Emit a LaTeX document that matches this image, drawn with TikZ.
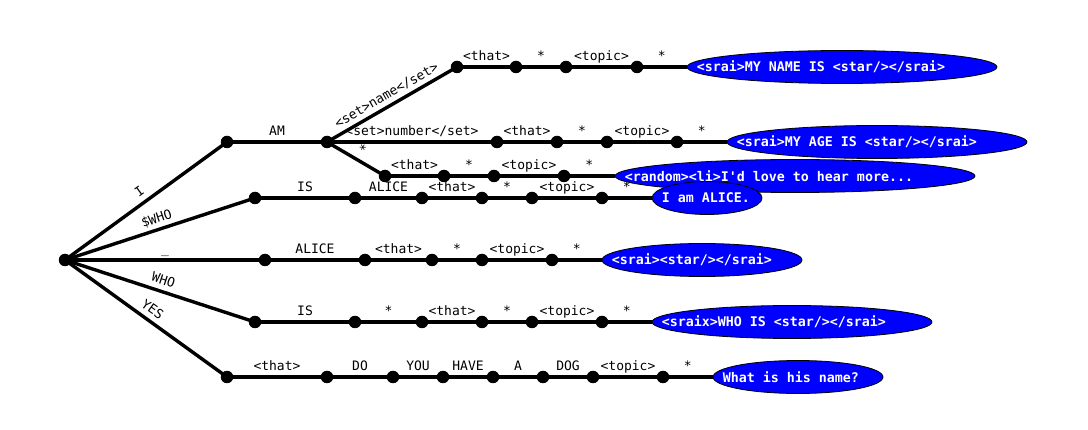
\documentclass[tikz,border=0pt]{standalone}
\usepackage{fontspec}
\setmonofont{DejaVu Sans Mono}
\usetikzlibrary{shapes.geometric}
\pgfdeclarelayer{bg}
\pgfsetlayers{bg,main}
\begin{document}
\begin{tikzpicture}[x=1pt,y=-1pt,
  dot/.style={circle,fill=black,minimum size=12.5pt,inner sep=0pt},
  leaf/.style={ellipse,draw=black,line width=0.8pt,fill=blue,minimum height=33pt,inner sep=0pt},
  leaftext/.style={anchor=west,text=white,font=\ttfamily\bfseries\fontsize{13.3}{15}\selectfont,inner sep=0pt},
  edge/.style={line width=3.4pt},
  lab/.style={font=\ttfamily\fontsize{13}{15}\selectfont,text depth=0pt,inner xsep=0pt,inner ysep=5pt,anchor=south,sloped},
]
\useasboundingbox (0,0) rectangle (1088,430);
% root
\node[dot] (r) at (65,260) {};
% I AM branch
\node[dot] (a1) at (227,142) {};
\node[dot] (a2) at (327,142) {};
% name
\node[dot] (b1) at (457,67) {};
\node[dot] (b2) at (516,67) {};
\node[dot] (b3) at (566,67) {};
\node[dot] (b4) at (637,67) {};
% number
\node[dot] (c1) at (497,142) {};
\node[dot] (c2) at (557,142) {};
\node[dot] (c3) at (607,142) {};
\node[dot] (c4) at (677,142) {};
% star
\node[dot] (s1) at (385,176) {};
\node[dot] (s2) at (444,176) {};
\node[dot] (s3) at (494,176) {};
\node[dot] (s4) at (564,176) {};
% $WHO
\node[dot] (w1) at (255,198) {};
\node[dot] (w2) at (355,198) {};
\node[dot] (w3) at (422,198) {};
\node[dot] (w4) at (482,198) {};
\node[dot] (w5) at (532,198) {};
\node[dot] (w6) at (602,198) {};
% _
\node[dot] (u1) at (265,260) {};
\node[dot] (u2) at (365,260) {};
\node[dot] (u3) at (432,260) {};
\node[dot] (u4) at (482,260) {};
\node[dot] (u5) at (552,260) {};
% WHO
\node[dot] (v1) at (255,322) {};
\node[dot] (v2) at (355,322) {};
\node[dot] (v3) at (422,322) {};
\node[dot] (v4) at (482,322) {};
\node[dot] (v5) at (532,322) {};
\node[dot] (v6) at (602,322) {};
% YES
\node[dot] (y1) at (227,377) {};
\node[dot] (y2) at (327,377) {};
\node[dot] (y3) at (393,377) {};
\node[dot] (y4) at (443,377) {};
\node[dot] (y5) at (493,377) {};
\node[dot] (y6) at (543,377) {};
\node[dot] (y7) at (593,377) {};
\node[dot] (y8) at (663,377) {};
% leaves
\node[leaf,minimum width=310pt] (E1) at (842,67) {};
\node[leaftext] (t1) at ([xshift=10pt]E1.west) {<srai>MY NAME IS <star/></srai>};
\node[leaf,minimum width=300pt] (E2) at (877,142) {};
\node[leaftext] (t2) at ([xshift=10pt]E2.west) {<srai>MY AGE IS <star/></srai>};
\node[leaf,minimum width=360pt] (E3) at (795,176) {};
\node[leaftext] (t3) at ([xshift=10pt]E3.west) {<random><li>I\textquotesingle d love to hear more...};
\node[leaf,minimum width=110pt] (E4) at (707,198) {};
\node[leaftext] (t4) at ([xshift=10pt]E4.west) {I am ALICE.};
\node[leaf,minimum width=200pt] (E5) at (702,260) {};
\node[leaftext] (t5) at ([xshift=10pt]E5.west) {<srai><star/></srai>};
\node[leaf,minimum width=280pt] (E6) at (792,322) {};
\node[leaftext] (t6) at ([xshift=10pt]E6.west) {<sraix>WHO IS <star/></srai>};
\node[leaf,minimum width=170pt] (E7) at (798,377) {};
\node[leaftext] (t7) at ([xshift=10pt]E7.west) {What is his name?};
\begin{pgfonlayer}{bg}
% root edges
\draw[edge] (r.center) -- node[lab]{I} (a1.center);
\draw[edge] (r.center) -- node[lab]{\$WHO} (w1.center);
\draw[edge] (r.center) -- node[lab]{\_} (u1.center);
\draw[edge] (r.center) -- node[lab]{WHO} (v1.center);
\draw[edge] (r.center) -- node[lab]{YES} (y1.center);
% I AM
\draw[edge] (a1.center) -- node[lab]{AM} (a2.center);
\draw[edge] (a2.center) -- node[lab]{<set>name</set>} (b1.center);
\draw[edge] (b1.center) -- node[lab]{<that>} (b2.center);
\draw[edge] (b2.center) -- node[lab]{*} (b3.center);
\draw[edge] (b3.center) -- node[lab]{<topic>} (b4.center);
\draw[edge] (b4.center) -- node[lab]{*} (E1);
\draw[edge] (a2.center) -- node[lab]{<set>number</set>} (c1.center);
\draw[edge] (c1.center) -- node[lab]{<that>} (c2.center);
\draw[edge] (c2.center) -- node[lab]{*} (c3.center);
\draw[edge] (c3.center) -- node[lab]{<topic>} (c4.center);
\draw[edge] (c4.center) -- node[lab]{*} (E2);
\draw[edge] (a2.center) -- node[lab]{*} (s1.center);
\draw[edge] (s1.center) -- node[lab]{<that>} (s2.center);
\draw[edge] (s2.center) -- node[lab]{*} (s3.center);
\draw[edge] (s3.center) -- node[lab]{<topic>} (s4.center);
\draw[edge] (s4.center) -- node[lab]{*} (E3);
% $WHO
\draw[edge] (w1.center) -- node[lab]{IS} (w2.center);
\draw[edge] (w2.center) -- node[lab]{ALICE} (w3.center);
\draw[edge] (w3.center) -- node[lab]{<that>} (w4.center);
\draw[edge] (w4.center) -- node[lab]{*} (w5.center);
\draw[edge] (w5.center) -- node[lab]{<topic>} (w6.center);
\draw[edge] (w6.center) -- node[lab]{*} (E4);
% _
\draw[edge] (u1.center) -- node[lab]{ALICE} (u2.center);
\draw[edge] (u2.center) -- node[lab]{<that>} (u3.center);
\draw[edge] (u3.center) -- node[lab]{*} (u4.center);
\draw[edge] (u4.center) -- node[lab]{<topic>} (u5.center);
\draw[edge] (u5.center) -- node[lab]{*} (E5);
% WHO
\draw[edge] (v1.center) -- node[lab]{IS} (v2.center);
\draw[edge] (v2.center) -- node[lab]{*} (v3.center);
\draw[edge] (v3.center) -- node[lab]{<that>} (v4.center);
\draw[edge] (v4.center) -- node[lab]{*} (v5.center);
\draw[edge] (v5.center) -- node[lab]{<topic>} (v6.center);
\draw[edge] (v6.center) -- node[lab]{*} (E6);
% YES
\draw[edge] (y1.center) -- node[lab]{<that>} (y2.center);
\draw[edge] (y2.center) -- node[lab]{DO} (y3.center);
\draw[edge] (y3.center) -- node[lab]{YOU} (y4.center);
\draw[edge] (y4.center) -- node[lab]{HAVE} (y5.center);
\draw[edge] (y5.center) -- node[lab]{A} (y6.center);
\draw[edge] (y6.center) -- node[lab]{DOG} (y7.center);
\draw[edge] (y7.center) -- node[lab]{<topic>} (y8.center);
\draw[edge] (y8.center) -- node[lab]{*} (E7);
\end{pgfonlayer}
\end{tikzpicture}
\end{document}
